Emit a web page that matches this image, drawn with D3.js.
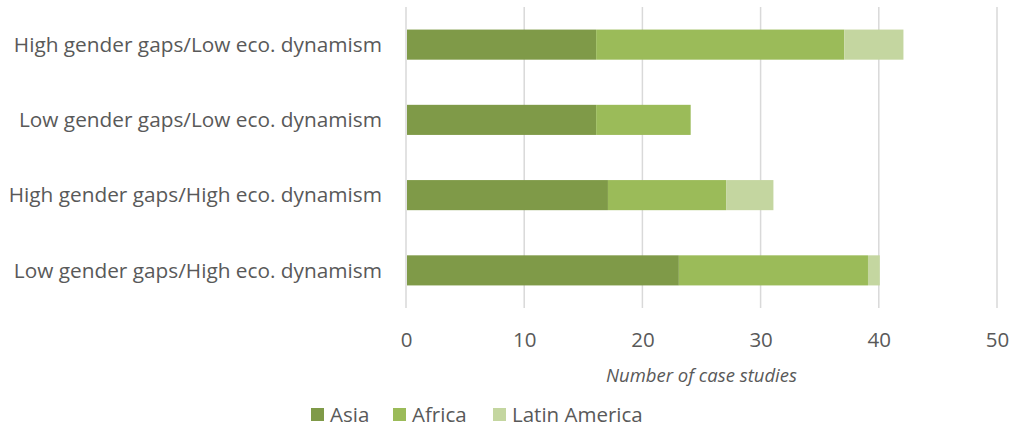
<!DOCTYPE html>
<html>
<head>
<meta charset="utf-8">
<script src="https://cdn.jsdelivr.net/npm/d3@7"></script>
<style>
  html, body { margin: 0; padding: 0; background: #fff; }
  svg text { font-family: "Open Sans", "Noto Sans", sans-serif; fill: #595959; }
</style>
</head>
<body>
<svg id="chart" width="1012" height="429"></svg>
<script>
// Case study counts by typology and region
const categories = [
  "High gender gaps/Low eco. dynamism",
  "Low gender gaps/Low eco. dynamism",
  "High gender gaps/High eco. dynamism",
  "Low gender gaps/High eco. dynamism"
];
const seriesNames = ["Asia", "Africa", "Latin America"];
const asia = [16, 16, 17, 23];
const africa = [21, 8, 10, 16];
const latinAmerica = [5, 0, 4, 1];
const xTicks = [0, 10, 20, 30, 40, 50];
const colors = ["#7F9A48", "#9BBB59", "#C4D6A0"];

const rows = categories.map((c, i) => ({
  category: c,
  "Asia": asia[i],
  "Africa": africa[i],
  "Latin America": latinAmerica[i]
}));

const svg = d3.select("#chart");
const margin = { left: 406, right: 15, top: 7, bottom: 121 };
const W = 1012, H = 429;

const x = d3.scaleLinear().domain([0, 50]).range([margin.left, W - margin.right]);
const y = d3.scaleBand().domain(categories).range([margin.top, H - margin.bottom]).paddingInner(0.6).paddingOuter(0.3);

// Vertical gridlines
svg.append("g")
  .selectAll("line")
  .data(xTicks)
  .join("line")
  .attr("x1", d => x(d)).attr("x2", d => x(d))
  .attr("y1", margin.top).attr("y2", H - margin.bottom)
  .attr("stroke", "#d9d9d9")
  .attr("stroke-width", 1.5);

// Stacked bars
const stack = d3.stack().keys(seriesNames)(rows);
svg.append("g")
  .selectAll("g")
  .data(stack)
  .join("g")
  .attr("fill", (d, i) => colors[i])
  .selectAll("rect")
  .data(d => d)
  .join("rect")
  .attr("x", d => x(d[0]) + 1)
  .attr("y", d => y(d.data.category))
  .attr("width", d => Math.max(0, x(d[1]) - x(d[0])))
  .attr("height", y.bandwidth());

// Category labels
svg.append("g")
  .selectAll("text")
  .data(categories)
  .join("text")
  .attr("x", 382)
  .attr("y", d => y(d) + y.bandwidth() / 2)
  .attr("dy", "0.35em")
  .attr("text-anchor", "end")
  .attr("font-size", 20.8)
  .text(d => d);

// X axis
const xAxis = d3.axisBottom(x).tickValues(xTicks).tickSize(0).tickPadding(0);
const gx = svg.append("g")
  .attr("transform", `translate(0, 347)`)
  .call(xAxis);
gx.select(".domain").remove();
gx.selectAll("text")
  .attr("font-size", 20.5)
  .attr("dy", 0)
  .style("font-family", '"Open Sans", sans-serif')
  .attr("fill", "#595959");

// Axis title
svg.append("text")
  .attr("x", (x(0) + x(50)) / 2)
  .attr("y", 382)
  .attr("text-anchor", "middle")
  .attr("font-size", 18.5)
  .attr("font-style", "italic")
  .text("Number of case studies");

// Legend
const legendX = [311, 393, 493];
const legend = svg.append("g")
  .selectAll("g")
  .data(seriesNames)
  .join("g")
  .attr("transform", (d, i) => `translate(${legendX[i]}, 408)`);
legend.append("rect")
  .attr("width", 13).attr("height", 13)
  .attr("fill", (d, i) => colors[i]);
legend.append("text")
  .attr("x", 19)
  .attr("y", 13.5)
  .attr("font-size", 20.5)
  .text(d => d);
</script>
</body>
</html>
